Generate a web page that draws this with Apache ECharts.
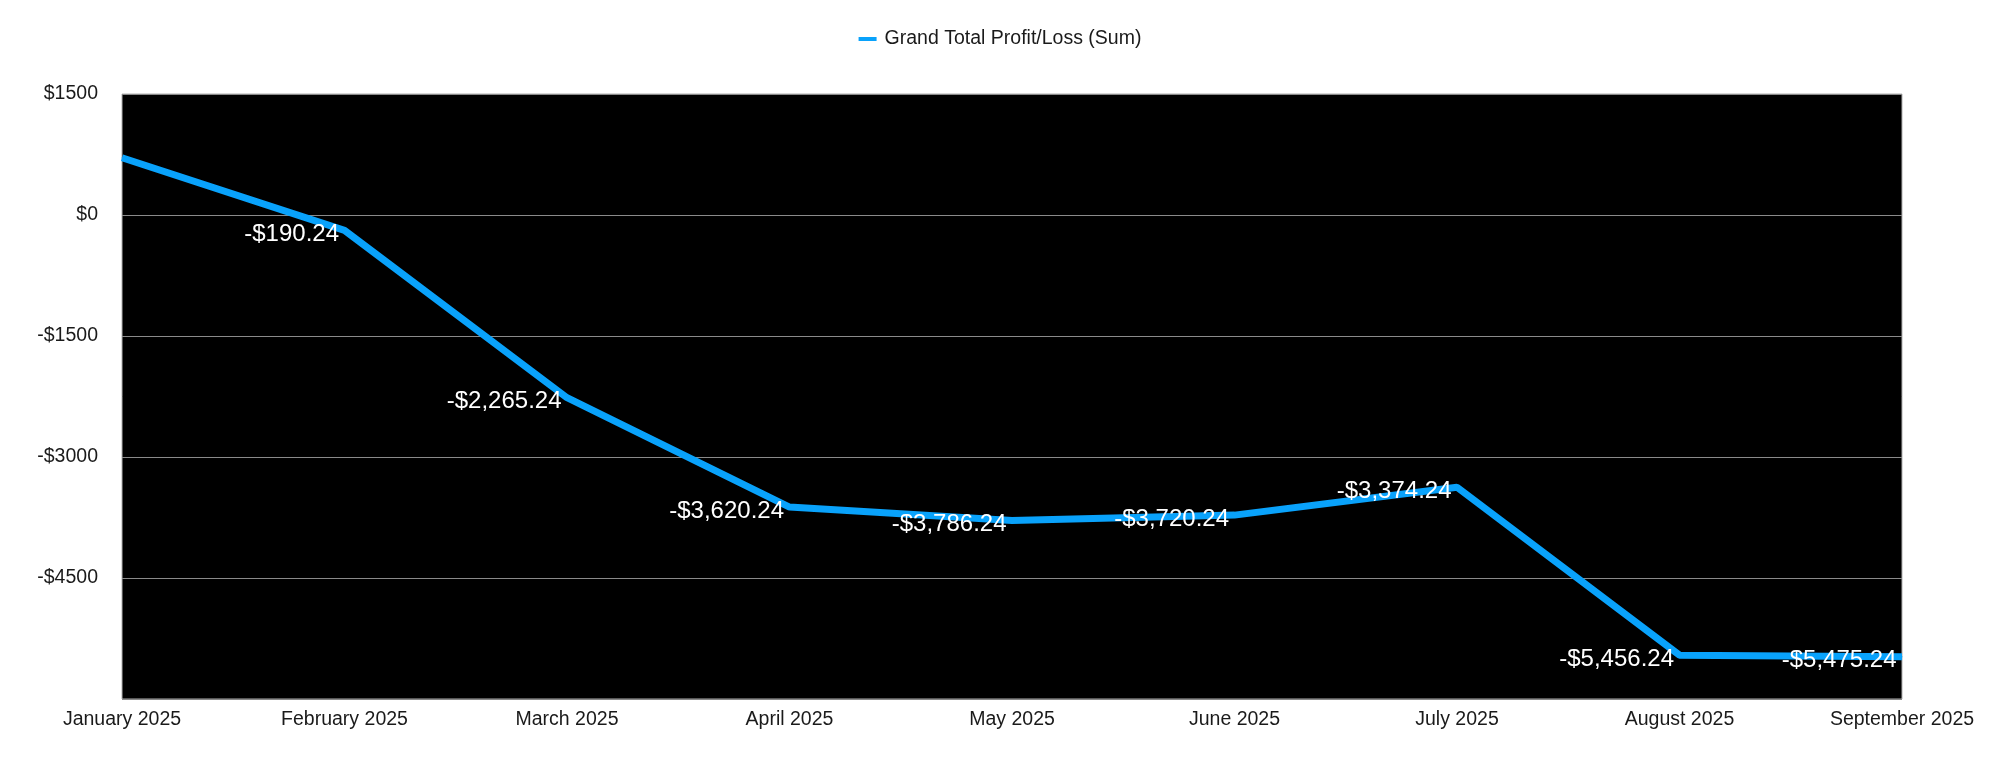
<!DOCTYPE html>
<html>
<head>
<meta charset="utf-8">
<script src="https://cdn.jsdelivr.net/npm/echarts@6/dist/echarts.min.js"></script>
<style>html,body{margin:0;padding:0;background:#fff;}#c{width:2000px;height:761px;}</style>
</head>
<body>
<div id="c"></div>
<script>
var categories = ['January 2025','February 2025','March 2025','April 2025','May 2025','June 2025','July 2025','August 2025','September 2025'];
var profitLoss = [709.76, -190.24, -2265.24, -3620.24, -3786.24, -3720.24, -3374.24, -5456.24, -5475.24];
var seriesName = 'Grand Total Profit/Loss (Sum)';
var yTicks = {min: -6000, max: 1500, interval: 1500};

function money(v, dec) {
  var a = Math.abs(v);
  var s = dec ? a.toLocaleString('en-US', {minimumFractionDigits: 2, maximumFractionDigits: 2}) : String(a);
  return (v < 0 ? '-$' : '$') + s;
}

var chart = echarts.init(document.getElementById('c'));
var font = '"Liberation Sans", Arial, Helvetica, sans-serif';
chart.setOption({
  animation: false,
  backgroundColor: '#fff',
  textStyle: {fontFamily: font},
  legend: {
    top: 24, left: 'center',
    icon: 'rect', itemWidth: 18, itemHeight: 4, itemGap: 10,
    textStyle: {fontSize: 19.5, color: '#1a1a1a', fontFamily: font, padding: [0, 0, 0, 3]},
    data: [seriesName]
  },
  grid: {left: 122, right: 98, top: 94, bottom: 62, show: true, backgroundColor: '#000', borderColor: '#b0b0b0', borderWidth: 1},
  xAxis: {
    type: 'category', data: categories, boundaryGap: false,
    axisLine: {show: false}, axisTick: {show: false},
    axisLabel: {fontSize: 19.5, color: '#1a1a1a', margin: 11, fontFamily: font, interval: 0}
  },
  yAxis: {
    type: 'value', min: yTicks.min, max: yTicks.max, interval: yTicks.interval,
    axisLine: {show: false}, axisTick: {show: false},
    splitLine: {show: true, lineStyle: {color: '#8a8a8a', width: 1}},
    axisLabel: {fontSize: 19.5, color: '#1a1a1a', margin: 24, fontFamily: font, showMinLabel: false,
      formatter: function (v) { return v === yTicks.min ? '' : money(v, false); }}
  },
  series: [{
    name: seriesName, type: 'line', showSymbol: true, symbol: 'circle', symbolSize: 1,
    lineStyle: {color: '#09a2fb', width: 7},
    itemStyle: {color: '#09a2fb'},
    label: {
      show: true, position: 'left', distance: 5, offset: [0, 4],
      color: '#fff', fontSize: 24, fontFamily: font,
      formatter: function (p) { return money(p.value, true); }
    },
    data: profitLoss.map(function (v, i) { return i === 0 ? {value: v, label: {show: false}} : v; })
  }]
});
</script>
</body>
</html>
